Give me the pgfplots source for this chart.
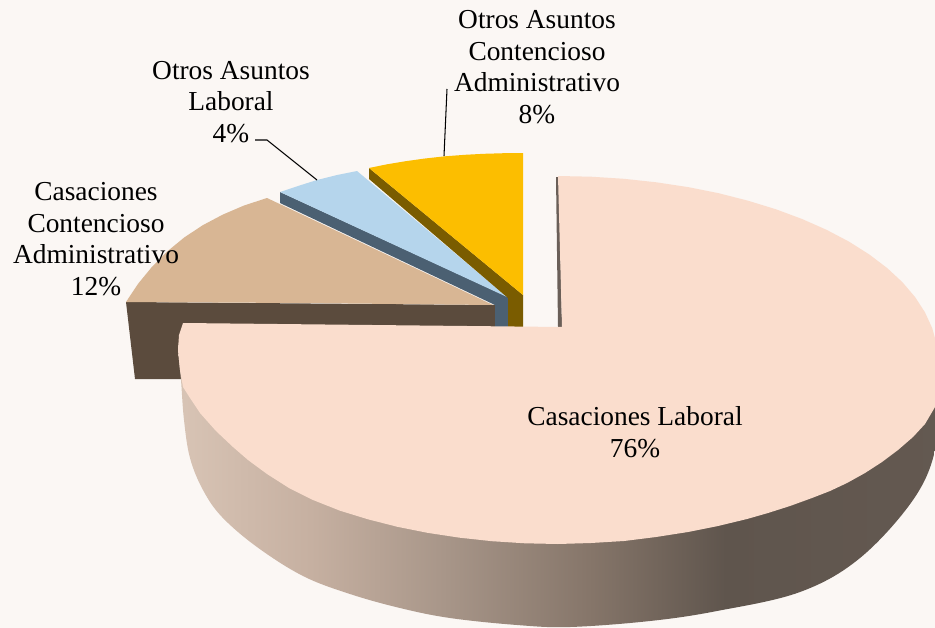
\documentclass[border=0pt]{standalone}
\usepackage{fontspec}
\setmainfont{Liberation Serif}
\usepackage{pgfplots}
\pgfplotsset{compat=1.18}
\definecolor{bgc}{RGB}{251,247,244}
\definecolor{pinkc}{RGB}{250,221,205}
\definecolor{brownc}{RGB}{216,182,148}
\definecolor{brownd}{RGB}{91,75,61}
\definecolor{bluec}{RGB}{181,213,236}
\definecolor{blued}{RGB}{75,96,114}
\definecolor{yelc}{RGB}{252,190,0}
\definecolor{yeld}{RGB}{122,92,0}
\definecolor{sl}{RGB}{106,95,88}
\definecolor{sa}{RGB}{216,196,181}
\definecolor{sb}{RGB}{198,176,161}
\definecolor{sc}{RGB}{168,150,137}
\definecolor{sd}{RGB}{133,117,105}
\definecolor{se}{RGB}{95,85,77}
\definecolor{sf}{RGB}{101,90,82}
\pgfdeclarehorizontalshading{sideshade}{100bp}{
 color(0bp)=(sa); color(25bp)=(sa); color(33bp)=(sb); color(41bp)=(sc); color(50bp)=(sd); color(58bp)=(se); color(75bp)=(sf); color(100bp)=(sf)}
\begin{document}
\begin{tikzpicture}
\begin{axis}[
  scale only axis, width=935bp, height=628bp,
  xmin=0, xmax=935, ymin=0, ymax=628, y dir=reverse,
  hide axis, clip=true, no markers,
  every axis plot/.append style={draw=none, line join=round},
]
% background
\addplot[fill=bgc] coordinates {(0,0)(935,0)(935,628)(0,628)} --cycle;
% brown slice: side and top
\addplot[fill=brownd] coordinates {(126,302)(496,305)(496,327)(183,327)(181,379)(135,379)} --cycle;
\addplot[fill=brownc] coordinates {(126,302)(138.3,283.5)(152.1,266.7)(167.4,251.3)(184.2,237.5)(202.6,225.3)(222.6,214.7)(244,205.5)(267,198)(493,305)(300,303)} --cycle;
% blue slice
\addplot[fill=blued] coordinates {(280,192)(280,203)(495,305)(495,327)(508,327)(508,297)} --cycle;
\addplot[fill=bluec] coordinates {(280,192)(298,186)(317,180)(337,175)(357,171)(507,297)} --cycle;
% yellow slice
\addplot[fill=yeld] coordinates {(369,168)(369,179)(508,298)(508,327)(523,327)(523,295)} --cycle;
\addplot[fill=yelc] coordinates {(369,168)(386,164.5)(405,161.3)(425,158.5)(445,156.3)(465,154.8)(484,153.8)(504,153.2)(523,153)(523,295)} --cycle;
% main slice: side wall
\addplot[shading=sideshade, shading angle=0, smooth, tension=0.6] coordinates {(178,345)(179,360)(181,380)(184,420)(190,458)(203,490)(222,517)(257,547)(303,576)(350,594)(400,608)(450,618)(517,625)(570,627)(650,621)(717,611)(800,592)(860,558)(913,500)(935,450)(935,400)(935,346)(500,345)} --cycle;
% inner sliver
\addplot[fill=sl] coordinates {(556,177)(558,327)(562,327)(559,177)} --cycle;
% main slice: top
\addplot[fill=pinkc] coordinates {(558,176)(591.1,176.7)(624,178.8)(656.3,182.3)(688,187.1)(718.6,193.2)(748,200.7)(776,209.3)(802.3,219.1)(826.7,229.9)(849.1,241.7)(869.3,254.5)(887.1,268)(902.4,282.2)(915.1,297.1)(925,312.4)(932.2,328.1)(936.6,344)(938,360)(937,376)(936,392)(935,407)(925,424)(913,437)(898,450)(882,462)(865,473)(847,483)(830,491)(812,498)(790,506)(768,513)(747,519)(718,526)(688,532)(656,537)(624,541)(591,543)(558,544)(524.9,543.3)(492,541.2)(459.7,537.7)(428,532.9)(397.4,526.8)(368,519.3)(340,510.7)(313,500)(289,488)(267,474)(248,460)(233,447)(216,431)(200,413)(190,398)(183,387)(180,370)(178,350)(179,335)(183,323)(562,327)} --cycle;
% leader lines
\addplot[draw=black, line width=1.05pt] coordinates {(255,140)(267,140)(317,180)};
\addplot[draw=black, line width=1.05pt] coordinates {(444,156)(447,89)};
% labels
\node[align=center, font=\fontsize{27.5}{31.7}\selectfont, inner sep=0pt] at (axis cs:537,67) {Otros Asuntos\\Contencioso\\Administrativo\\8\%};
\node[align=center, font=\fontsize{27.5}{31.7}\selectfont, inner sep=0pt] at (axis cs:231,102) {Otros Asuntos\\Laboral\\4\%};
\node[align=center, font=\fontsize{27.5}{31.7}\selectfont, inner sep=0pt] at (axis cs:96,239) {Casaciones\\Contencioso\\Administrativo\\12\%};
\node[align=center, font=\fontsize{27.5}{31.7}\selectfont, inner sep=0pt] at (axis cs:635,432) {Casaciones Laboral\\76\%};
\end{axis}
\end{tikzpicture}
\end{document}
